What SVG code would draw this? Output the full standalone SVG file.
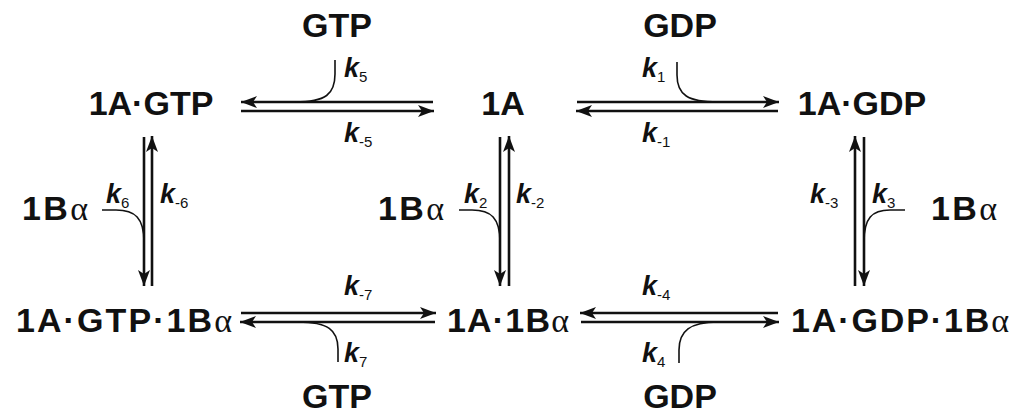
<svg xmlns="http://www.w3.org/2000/svg" width="1020" height="420" viewBox="0 0 1020 420">
<style>
.lbl{font-family:"Liberation Sans",Arial,sans-serif;font-weight:bold;font-size:34px;fill:#111;text-anchor:middle}
.al{font-family:"Liberation Serif","DejaVu Serif",serif;font-weight:normal}
.k{font-family:"Liberation Sans",Arial,sans-serif;font-weight:bold;font-style:italic;font-size:27px;fill:#111}
.sub{font-weight:normal;font-style:normal;font-size:15px}
.ln{stroke:#111;stroke-width:2.6;fill:none}
.cv{stroke:#111;stroke-width:1.6;fill:none}
</style>
<defs>
<marker id="ah" markerUnits="userSpaceOnUse" markerWidth="17" markerHeight="13" refX="16" refY="6.5" orient="auto" viewBox="0 0 17 13">
<path d="M0,0.5 L16,6.5 L0,12.5 L4,6.5 z" fill="#111"/>
</marker>
</defs>
<rect width="1020" height="420" fill="#fff"/>

<g id="connectors">
<line class="ln" x1="433" y1="102" x2="241" y2="102" marker-end="url(#ah)"/>
<line class="ln" x1="241" y1="111" x2="434" y2="111" marker-end="url(#ah)"/>
<path class="cv" d="M335,60 L335,74 C335,94 326,102 295,102"/>
<line class="ln" x1="577" y1="102" x2="779" y2="102" marker-end="url(#ah)"/>
<line class="ln" x1="778" y1="111" x2="576" y2="111" marker-end="url(#ah)"/>
<path class="cv" d="M677,62 L677,75 C677,95 688,102 718,102"/>
<line class="ln" x1="144" y1="137" x2="144" y2="286" marker-end="url(#ah)"/>
<line class="ln" x1="152" y1="286" x2="152" y2="136" marker-end="url(#ah)"/>
<path class="cv" d="M102,210 L116,210 C135,210 144,218 144,242"/>
<line class="ln" x1="500" y1="137" x2="500" y2="286" marker-end="url(#ah)"/>
<line class="ln" x1="509" y1="286" x2="509" y2="136" marker-end="url(#ah)"/>
<path class="cv" d="M459,210 L472,210 C491,210 500,218 500,242"/>
<line class="ln" x1="855" y1="286" x2="855" y2="136" marker-end="url(#ah)"/>
<line class="ln" x1="864" y1="137" x2="864" y2="286" marker-end="url(#ah)"/>
<path class="cv" d="M905,210 L890,210 C872,210 864,218 864,242"/>
<line class="ln" x1="241" y1="313" x2="436" y2="313" marker-end="url(#ah)"/>
<line class="ln" x1="435" y1="322" x2="240" y2="322" marker-end="url(#ah)"/>
<path class="cv" d="M338,362 L338,349 C338,330 328,322 298,322"/>
<line class="ln" x1="778" y1="313" x2="580" y2="313" marker-end="url(#ah)"/>
<line class="ln" x1="581" y1="322" x2="779" y2="322" marker-end="url(#ah)"/>
<path class="cv" d="M679,363 L679,350 C679,331 690,322 718,322"/>
</g>

<g id="rate-labels">
<text class="k" x="344" y="77">k<tspan class="sub" dy="5">5</tspan></text>
<text class="k" x="344" y="142">k<tspan class="sub" dy="5">-5</tspan></text>
<text class="k" x="642" y="77">k<tspan class="sub" dy="5">1</tspan></text>
<text class="k" x="642" y="142">k<tspan class="sub" dy="5">-1</tspan></text>
<text class="k" x="106" y="203">k<tspan class="sub" dy="5">6</tspan></text>
<text class="k" x="160" y="203">k<tspan class="sub" dy="5">-6</tspan></text>
<text class="k" x="464" y="203">k<tspan class="sub" dy="5">2</tspan></text>
<text class="k" x="516" y="203">k<tspan class="sub" dy="5">-2</tspan></text>
<text class="k" x="810" y="203">k<tspan class="sub" dy="5">-3</tspan></text>
<text class="k" x="872" y="203">k<tspan class="sub" dy="5">3</tspan></text>
<text class="k" x="344" y="295">k<tspan class="sub" dy="5">-7</tspan></text>
<text class="k" x="344" y="362">k<tspan class="sub" dy="5">7</tspan></text>
<text class="k" x="642" y="295">k<tspan class="sub" dy="5">-4</tspan></text>
<text class="k" x="642" y="362">k<tspan class="sub" dy="5">4</tspan></text>
</g>

<g id="reagents">
<text class="lbl" x="337" y="37">GTP</text>
<text class="lbl" x="680" y="37">GDP</text>
<text class="lbl" x="55" y="220" textLength="66" lengthAdjust="spacing">1B<tspan class="al">α</tspan></text>
<text class="lbl" x="411" y="220" textLength="66" lengthAdjust="spacing">1B<tspan class="al">α</tspan></text>
<text class="lbl" x="964" y="220" textLength="66" lengthAdjust="spacing">1B<tspan class="al">α</tspan></text>
<text class="lbl" x="337" y="408">GTP</text>
<text class="lbl" x="680" y="408">GDP</text>
</g>

<g id="node-1A-GTP"><text class="lbl" x="151" y="115">1A·GTP</text></g>
<g id="node-1A"><text class="lbl" x="503" y="115">1A</text></g>
<g id="node-1A-GDP"><text class="lbl" x="862" y="115">1A·GDP</text></g>
<g id="node-1A-GTP-1Ba"><text class="lbl" x="124" y="332" textLength="216" lengthAdjust="spacing">1A·GTP·1B<tspan class="al">α</tspan></text></g>
<g id="node-1A-1Ba"><text class="lbl" x="508" y="332" textLength="122" lengthAdjust="spacing">1A·1B<tspan class="al">α</tspan></text></g>
<g id="node-1A-GDP-1Ba"><text class="lbl" x="900" y="332" textLength="218" lengthAdjust="spacing">1A·GDP·1B<tspan class="al">α</tspan></text></g>
</svg>
